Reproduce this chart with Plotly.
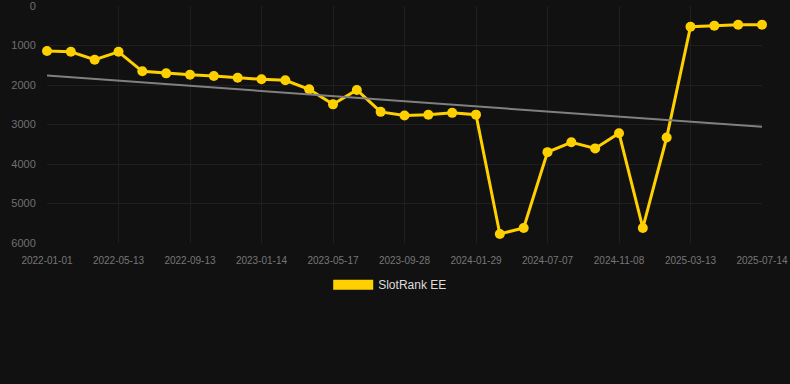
import plotly.graph_objects as go

dates = [
    "2022-01-01", "2022-02-13", "2022-03-28", "2022-05-13", "2022-06-23", "2022-08-03",
    "2022-09-13", "2022-10-24", "2022-12-04", "2023-01-14", "2023-02-24", "2023-04-06",
    "2023-05-17", "2023-07-01", "2023-08-14", "2023-09-28", "2023-11-08", "2023-12-19",
    "2024-01-29", "2024-03-22", "2024-05-14", "2024-07-07", "2024-08-18", "2024-09-28",
    "2024-11-08", "2024-12-23", "2025-02-05", "2025-03-13", "2025-04-26", "2025-06-01",
    "2025-07-14",
]
rank = [
    1140, 1160, 1360, 1160, 1654, 1705, 1740, 1770, 1815, 1856, 1880, 2110, 2490, 2125,
    2680, 2770, 2755, 2705, 2750, 5770, 5620, 3700, 3450, 3605, 3220, 5620, 3330, 525,
    500, 475, 475,
]
trend_dates = ["2022-01-01", "2025-07-14"]
trend_values = [1760, 3060]
tick_labels = [
    "2022-01-01", "2022-05-13", "2022-09-13", "2023-01-14", "2023-05-17", "2023-09-28",
    "2024-01-29", "2024-07-07", "2024-11-08", "2025-03-13", "2025-07-14",
]
y_ticks = [0, 1000, 2000, 3000, 4000, 5000, 6000]
series_name = "SlotRank EE"

yellow = "#FFD000"

fig = go.Figure()
fig.add_trace(go.Scatter(
    x=dates, y=rank, mode="lines+markers", name=series_name,
    line=dict(color=yellow, width=3), marker=dict(color=yellow, size=10),
    showlegend=False, cliponaxis=False,
))
fig.add_trace(go.Scatter(
    x=trend_dates, y=trend_values, mode="lines",
    line=dict(color="#808080", width=2), showlegend=False, hoverinfo="skip",
))
fig.add_trace(go.Scatter(
    x=[None], y=[None], mode="lines", name=series_name,
    line=dict(color=yellow, width=12), showlegend=True,
))

fig.update_layout(
    width=790, height=384,
    paper_bgcolor="#111111", plot_bgcolor="#111111",
    margin=dict(l=47, r=28, t=6, b=141, autoexpand=False),
    font=dict(family="Arial, Liberation Sans, sans-serif", color="#777777"),
    showlegend=True,
    legend=dict(orientation="h", x=0.48, xanchor="center", y=-0.115, yanchor="top",
                font=dict(size=12, color="#dddddd"), itemwidth=40,
                bgcolor="rgba(0,0,0,0)"),
    xaxis=dict(
        type="category", categoryorder="array", categoryarray=dates,
        range=[0, len(dates) - 1],
        tickmode="array", tickvals=tick_labels, ticktext=tick_labels,
        tickfont=dict(size=10, color="#777777"),
        showgrid=True, gridcolor="#1f1f1f", gridwidth=1,
        zeroline=False, showline=False,
        ticks="outside", ticklen=8, tickcolor="rgba(0,0,0,0)",
        ticklabeloverflow="allow", automargin=False,
    ),
    yaxis=dict(
        range=[6000, 0], tickmode="array", tickvals=y_ticks,
        ticktext=[str(v) for v in y_ticks],
        tickfont=dict(size=11, color="#707070"),
        showgrid=True, gridcolor="#1f1f1f", gridwidth=1,
        zeroline=False, showline=False,
        ticks="outside", ticklen=8, tickcolor="rgba(0,0,0,0)",
        ticklabeloverflow="allow", automargin=False,
    ),
)

fig.write_html("out.html", config={"displayModeBar": False},
               post_script="document.body.style.margin='0';")
